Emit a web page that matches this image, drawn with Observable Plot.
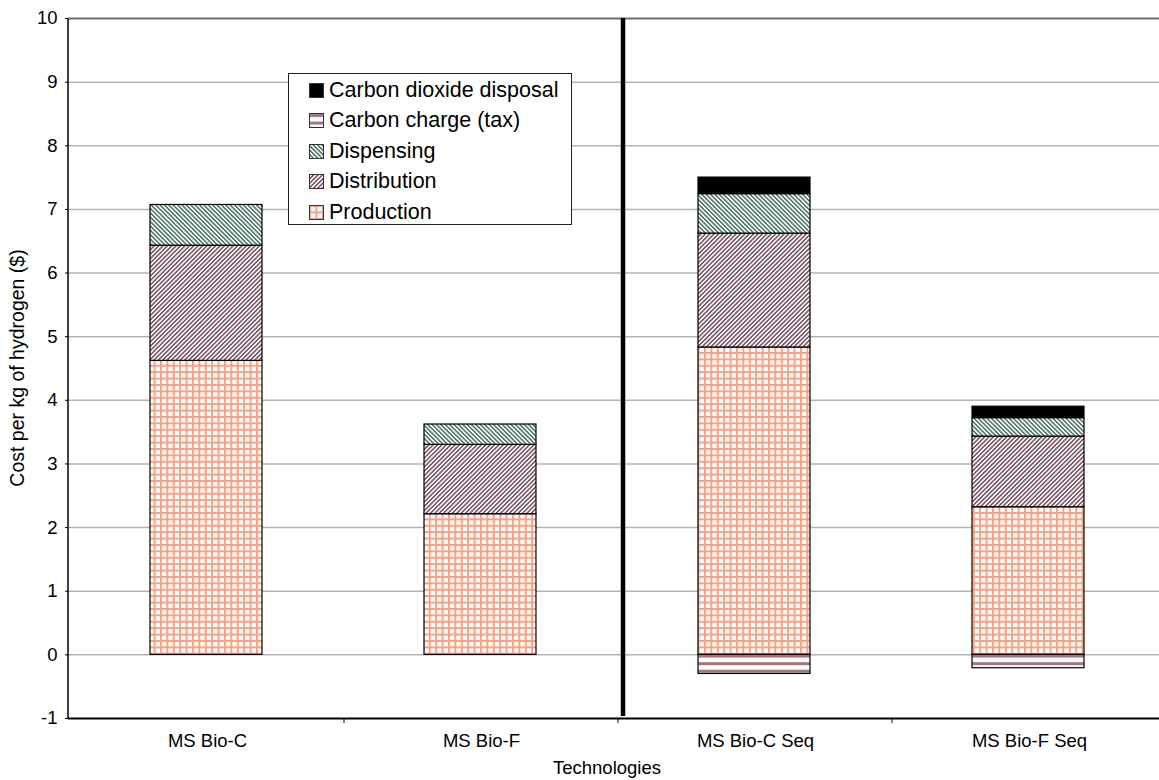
<!DOCTYPE html>
<html>
<head>
<meta charset="utf-8">
<script src="https://cdn.jsdelivr.net/npm/d3@7"></script>
<script src="https://cdn.jsdelivr.net/npm/@observablehq/plot@0.6"></script>
<style>
  html, body { margin: 0; padding: 0; background: #fff; overflow: hidden; }
  #wrap { position: relative; width: 1159px; height: 780px; font-family: "Liberation Sans", Arial, Helvetica, sans-serif; }
  #legend { position: absolute; left: 288px; top: 73px; width: 282px; height: 150px; border: 1.5px solid #222; background: #fff; }
  .row { position: absolute; left: 20px; height: 24px; display: flex; align-items: center; font-size: 21.5px; color: #000; white-space: nowrap; }
  .row svg { margin-right: 5px; display: block; }
</style>
</head>
<body>
<div id="wrap"><div id="chart"></div><div id="legend"></div></div>
<script>
// Hydrogen cost breakdown per technology ($ per kg)
const technologies = ["MS Bio-C", "MS Bio-F", "MS Bio-C Seq", "MS Bio-F Seq"];
const components = ["Production", "Distribution", "Dispensing", "Carbon dioxide disposal", "Carbon charge (tax)"];
const legendOrder = ["Carbon dioxide disposal", "Carbon charge (tax)", "Dispensing", "Distribution", "Production"];

const production   = [4.62, 2.21, 4.83, 2.32];
const distribution = [1.81, 1.09, 1.79, 1.11];
const dispensing   = [0.64, 0.32, 0.62, 0.29];
const co2Disposal  = [0, 0, 0.26, 0.18];
const carbonCharge = [0, 0, -0.30, -0.21];

const yTicks = [-1, 0, 1, 2, 3, 4, 5, 6, 7, 8, 9, 10];
const gridTicks = [0, 1, 2, 3, 4, 5, 6, 7, 8, 9];

const seriesValues = {
  "Production": production,
  "Distribution": distribution,
  "Dispensing": dispensing,
  "Carbon dioxide disposal": co2Disposal,
  "Carbon charge (tax)": carbonCharge
};

// pattern ids for each component
const patternIds = {
  "Production": "pat-prod",
  "Distribution": "pat-dist",
  "Dispensing": "pat-disp",
  "Carbon dioxide disposal": "pat-co2",
  "Carbon charge (tax)": "pat-tax"
};

const rows = [];
components.forEach(c => {
  technologies.forEach((t, i) => {
    const v = seriesValues[c][i];
    if (v !== 0) rows.push({tech: t, component: c, value: v});
  });
});

const font = '"Liberation Sans", Arial, Helvetica, sans-serif';

const plot = Plot.plot({
  width: 1159,
  height: 780,
  marginLeft: 68,
  marginRight: -8,
  marginTop: 18,
  marginBottom: 62,
  style: {fontFamily: font, fontSize: "18px", color: "#000", background: "transparent", overflow: "visible"},
  x: {domain: technologies, padding: 0, label: null},
  y: {domain: [-1, 10], label: null},
  color: {domain: components, range: components.map(c => `url(#${patternIds[c]})`)},
  marks: [
    Plot.ruleY(gridTicks, {stroke: "#b3b3b3", strokeWidth: 1.5}),
    Plot.ruleY([10], {stroke: "#6e6e6e", strokeWidth: 2}),
    Plot.barY(rows, Plot.stackY({order: components}, {
      x: "tech", y: "value", fill: "component",
      stroke: "#000", strokeWidth: 1.2, insetLeft: 80, insetRight: 82
    })),
    Plot.ruleY([-1], {stroke: "#000", strokeWidth: 2}),
    Plot.axisY(yTicks, {tickSize: 3, tickPadding: 8, fontSize: 18.5, label: null, tickFormat: d => String(d)}),
    Plot.axisX({tickSize: 0, tickPadding: 15, fontSize: 18.5, label: null})
  ]
});

document.getElementById("chart").appendChild(plot);

const svg = d3.select(plot);
const defs = svg.insert("defs", ":first-child");

// Production: salmon grid
const pProd = defs.append("pattern").attr("id", "pat-prod").attr("patternUnits", "userSpaceOnUse")
  .attr("width", 6.4).attr("height", 6.4);
pProd.append("rect").attr("width", 6.4).attr("height", 6.4).attr("fill", "#fff");
pProd.append("rect").attr("x", 0).attr("y", 0).attr("width", 2).attr("height", 6.4).attr("fill", "#f5a184");
pProd.append("rect").attr("x", 0).attr("y", 0).attr("width", 6.4).attr("height", 2).attr("fill", "#f5a184");

// Distribution: mauve forward diagonal
const pDist = defs.append("pattern").attr("id", "pat-dist").attr("patternUnits", "userSpaceOnUse")
  .attr("width", 3.1).attr("height", 3.1).attr("patternTransform", "rotate(-45)");
pDist.append("rect").attr("width", 3.1).attr("height", 3.1).attr("fill", "#fff");
pDist.append("rect").attr("width", 3.1).attr("height", 1.6).attr("fill", "#7a5668");

// Dispensing: green back diagonal
const pDisp = defs.append("pattern").attr("id", "pat-disp").attr("patternUnits", "userSpaceOnUse")
  .attr("width", 3.1).attr("height", 3.1).attr("patternTransform", "rotate(45)");
pDisp.append("rect").attr("width", 3.1).attr("height", 3.1).attr("fill", "#fff");
pDisp.append("rect").attr("width", 3.1).attr("height", 1.6).attr("fill", "#527868");

// Carbon charge: horizontal rose stripes
const pTax = defs.append("pattern").attr("id", "pat-tax").attr("patternUnits", "userSpaceOnUse")
  .attr("width", 8).attr("height", 7.6);
pTax.append("rect").attr("width", 8).attr("height", 7.6).attr("fill", "#fff");
pTax.append("rect").attr("y", 1).attr("width", 8).attr("height", 3).attr("fill", "#a8727c");

// Carbon dioxide disposal: solid black
const pCo2 = defs.append("pattern").attr("id", "pat-co2").attr("patternUnits", "userSpaceOnUse")
  .attr("width", 4).attr("height", 4);
pCo2.append("rect").attr("width", 4).attr("height", 4).attr("fill", "#000");

const xs = plot.scale("x");
const ys = plot.scale("y");
const yTop = ys.apply(10), yBottom = ys.apply(-1);

// left axis line
svg.append("line").attr("x1", 68).attr("x2", 68).attr("y1", yTop).attr("y2", yBottom)
  .attr("stroke", "#000").attr("stroke-width", 1.5);

// category boundary ticks
technologies.slice(1).forEach(t => {
  const x = xs.apply(t);
  svg.append("line").attr("x1", x).attr("x2", x).attr("y1", yBottom).attr("y2", yBottom + 5)
    .attr("stroke", "#000").attr("stroke-width", 1);
});

// separator between unsequestered and sequestered cases
const sepX = xs.apply("MS Bio-C Seq") + 5;
svg.append("line").attr("x1", sepX).attr("x2", sepX).attr("y1", yTop).attr("y2", yBottom - 2)
  .attr("stroke", "#000").attr("stroke-width", 4.5);

// axis titles
svg.append("text").attr("x", 607).attr("y", 774).attr("text-anchor", "middle")
  .attr("font-family", font).attr("font-size", 18.5).attr("fill", "#000").text("Technologies");
svg.append("text").attr("transform", "translate(24,368) rotate(-90)").attr("text-anchor", "middle")
  .attr("font-family", font).attr("font-size", 19.5).attr("fill", "#000").text("Cost per kg of hydrogen ($)");

// legend
const legend = d3.select("#legend");
legendOrder.forEach((c, i) => {
  const row = legend.append("div").attr("class", "row").style("top", (4 + i * 30.5) + "px");
  const sw = row.append("svg").attr("width", 15).attr("height", 15);
  sw.append("rect").attr("x", 0.5).attr("y", 0.5).attr("width", 14).attr("height", 14)
    .attr("fill", `url(#${patternIds[c]})`).attr("stroke", "#333").attr("stroke-width", 1);
  row.append("span").text(c);
});
</script>
</body>
</html>
